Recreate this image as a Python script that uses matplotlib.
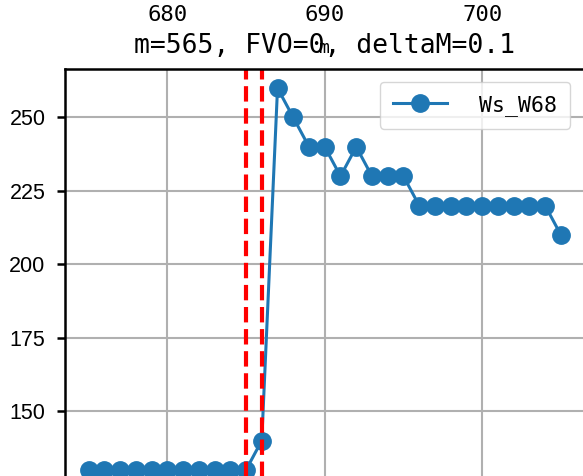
import matplotlib
matplotlib.use("Agg")
import matplotlib.pyplot as plt

# data
m_values = [675, 676, 677, 678, 679, 680, 681, 682, 683, 684, 685,
            686, 687, 688, 689, 690, 691, 692, 693, 694, 695,
            696, 697, 698, 699, 700, 701, 702, 703, 704, 705]
ws_w68 = [130, 130, 130, 130, 130, 130, 130, 130, 130, 130, 130,
          140, 260, 250, 240, 240, 230, 240, 230, 230, 230,
          220, 220, 220, 220, 220, 220, 220, 220, 220, 210]
series_label = "Ws_W68"
vline_positions = [685, 686]
x_ticks = [680, 690, 700]
y_ticks = [150, 175, 200, 225, 250]
title_text = "m=565, FVO=0, deltaM=0.1"
x_label = "m"

W, H = 583, 476
fig = plt.figure(figsize=(W / 100, H / 100), dpi=100)
ax = fig.add_axes([65 / W, (H - 489) / H, (584.5 - 65) / W, (489 - 69) / H])

ax.plot(m_values, ws_w68, marker="o", linestyle="-", color="#1f77b4",
        linewidth=2.2, markersize=12.5, label=series_label)
for v in vline_positions:
    ax.axvline(v, color="red", linestyle="--", linewidth=3)

ax.set_xticks(x_ticks)
ax.set_yticks(y_ticks)
ax.grid(True, color="#b0b0b0", linewidth=1.5)

ax.xaxis.tick_top()
ax.tick_params(axis="x", length=0, pad=32, labelsize=16,
               labelfontfamily="DejaVu Sans Mono")
ax.tick_params(axis="y", length=6, width=1.8, pad=8, labelsize=15.5,
               labelfontfamily="Liberation Sans")
for s in ax.spines.values():
    s.set_linewidth(1.8)

ax.set_title(title_text, fontsize=19, family="DejaVu Sans Mono", y=1.038, pad=0)
ax.xaxis.set_label_position("top")
ax.set_xlabel(x_label, fontsize=13, family="DejaVu Sans Mono")
ax.xaxis.set_label_coords(0.5, 1.038)
ax.xaxis.label.set_va("baseline")

ax.legend(loc="upper right", bbox_to_anchor=(0.972, 0.969), borderaxespad=0,
          prop={"family": "DejaVu Sans Mono", "size": 15.5},
          handlelength=2.5, handletextpad=1.5, borderpad=0.6)

fig.savefig("out.png", dpi=100)
